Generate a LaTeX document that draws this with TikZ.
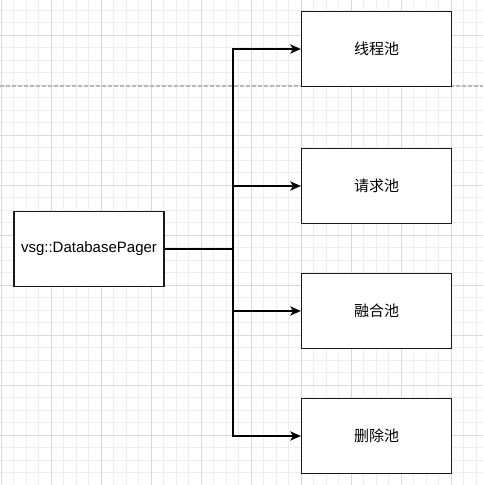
\documentclass[tikz,border=0pt]{standalone}
\usepackage{fontspec}
\setmainfont{Liberation Sans}
\newfontfamily\cjk{Noto Sans CJK SC}
\usepackage{tikz}
\usetikzlibrary{arrows.meta,calc,positioning}
\definecolor{minorgrid}{HTML}{EEEEEE}
\definecolor{majorgrid}{HTML}{D9D9D9}
\definecolor{pageline}{HTML}{B8B8B8}
\definecolor{boxline}{HTML}{1A1A1A}

\begin{document}
\begin{tikzpicture}[x=0.75pt,y=-0.75pt,
    poolbox/.style={draw=boxline,fill=white,line width=1pt,minimum width=112.5pt,
      minimum height=56.25pt,inner sep=0pt,font=\fontsize{11.25}{13}\selectfont},
    flow/.style={line width=1.1pt,-{Stealth[length=8pt,width=7pt,inset=2.2pt]}}]
    \useasboundingbox (0,0) rectangle (483,485);
    % background grid
    \foreach \gx in {0,...,38}
      \draw[minorgrid,line width=0.6pt] (1.3+12.5*\gx,0) -- (1.3+12.5*\gx,485);
    \foreach \gy in {0,...,38}
      \draw[minorgrid,line width=0.6pt] (0,10+12.5*\gy) -- (483,10+12.5*\gy);
    \foreach \gx in {0,...,9}
      \draw[majorgrid,line width=0.6pt] (1.3+50*\gx,0) -- (1.3+50*\gx,485);
    \foreach \gy in {0,...,9}
      \draw[majorgrid,line width=0.6pt] (0,35+50*\gy) -- (483,35+50*\gy);
    \draw[pageline,line width=0.8pt,dash pattern=on 3pt off 1.5pt] (0,86) -- (483,86);
    % boxes
    \node[poolbox] (pager) at (89,249) {vsg::DatabasePager};
    \node[poolbox] (thread) at (376.5,49) {\cjk 线程池};
    \node[poolbox] (request) at (376.5,186) {\cjk 请求池};
    \node[poolbox] (merge) at (376.5,311) {\cjk 融合池};
    \node[poolbox] (delete) at (376.5,436) {\cjk 删除池};
    \coordinate (split) at (233,249);
    \foreach \pool in {thread,request,merge,delete}
      \draw[flow] (pager.east) -- (split) |- (\pool.west);
  \end{tikzpicture}
\end{document}
